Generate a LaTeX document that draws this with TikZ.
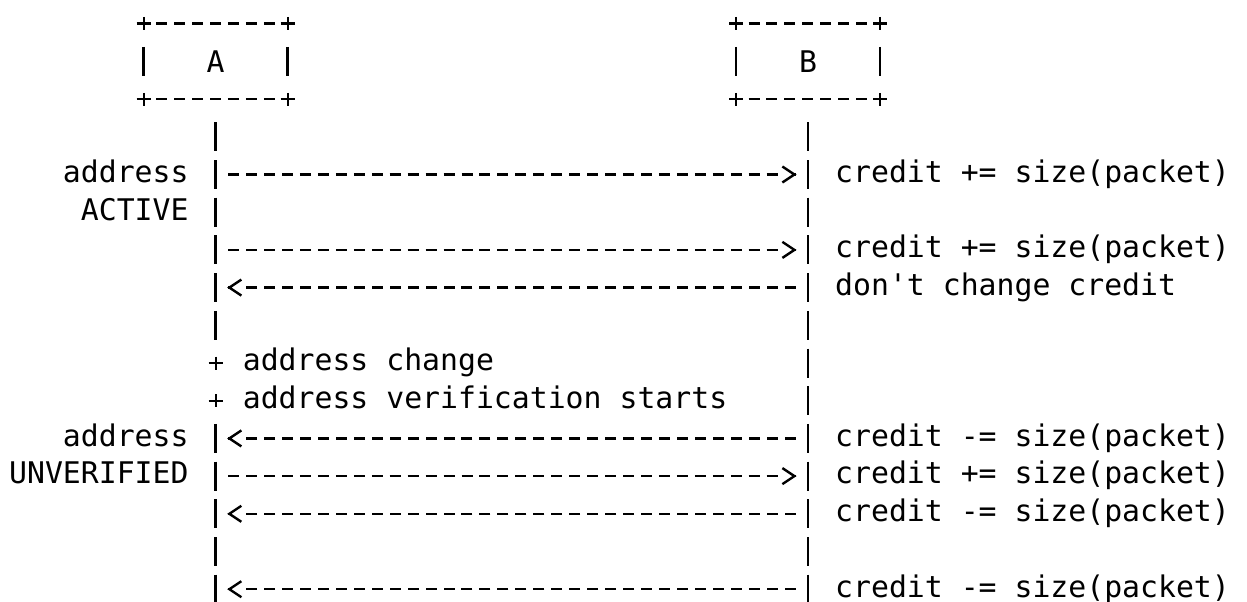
\documentclass[tikz,border=0pt]{standalone}
\usepackage{fontspec}
\setmonofont{DejaVu Sans Mono}
\usetikzlibrary{arrows.meta}

\newcommand\colw{17.95pt}
\newcommand\rowh{37.7pt}
\newcommand\seqfont{\fontsize{29.8pt}{36pt}\selectfont\ttfamily}
\tikzset{
  seqtext/.style={inner sep=0pt, font=\seqfont},
  actor/.style={seqtext, minimum width=143.6pt, minimum height=75.4pt},
  statelabel/.style={seqtext, anchor=base east},
  effect/.style={seqtext, anchor=base west},
  bar/.style={line width=2.6pt, dash pattern=on 29pt off 8.7pt},
  hyph/.style={line width=2.4pt, dash pattern=on 11pt off 6.95pt},
  msg/.style={hyph, shorten <=12.46pt, shorten >=30.4pt},
  msgtip/.style={line width=2.4pt, -{Straight Barb[length=12pt, width=16pt]}},
  plus/.style={line width=2.4pt},
}
\newcommand\lifepoints[1]{
  \coordinate (a#1) at (11, #1) ;
  \coordinate (b#1) at (44, #1) ;
}
\newcommand\plusmark[1]{
  \draw[plus] (#1) ++ (-7pt, 0) -- ++ (14pt, 0) (#1) ++ (0, 6.5pt) -- ++ (0, -13pt) ;
}
\newcommand\asciibox[1]{
  \draw[hyph] ([xshift=12.46pt]#1.north west) -- ([xshift=-12.46pt]#1.north east) ;
  \draw[hyph] ([xshift=12.46pt]#1.south west) -- ([xshift=-12.46pt]#1.south east) ;
  \draw[bar] (#1.west) ++ (0, 14.5pt) -- ++ (0, -29pt) ;
  \draw[bar] (#1.east) ++ (0, 14.5pt) -- ++ (0, -29pt) ;
  \plusmark{#1.north west} \plusmark{#1.north east}
  \plusmark{#1.south west} \plusmark{#1.south east}
}
\newcommand\msgtoB[2]{
  \draw[msg] (a#1) -- (b#1) ;
  \draw[msgtip] ([xshift=-12.5pt]b#1) -- ([xshift=-11.5pt]b#1) ;
  \node[effect] (eff#1) at ([xshift=26.93pt, yshift=-7.8pt]b#1) {#2} ;
}
\newcommand\msgtoA[2]{
  \draw[msg] (b#1) -- (a#1) ;
  \draw[msgtip] ([xshift=12.5pt]a#1) -- ([xshift=11.5pt]a#1) ;
  \node[effect] (eff#1) at ([xshift=26.93pt, yshift=-7.8pt]b#1) {#2} ;
}

\begin{document}
\begin{tikzpicture}[x=\colw, y=-\rowh]
    \useasboundingbox (-18.25pt, 23.7pt) rectangle (1228.75pt, -578.3pt) ;
    \node[actor] (boxA) at (11, 1) {A} ;
    \node[actor] (boxB) at (44, 1) {B} ;
    \asciibox{boxA}
    \asciibox{boxB}
    \lifepoints{3} \lifepoints{4} \lifepoints{5} \lifepoints{6} \lifepoints{7}
    \lifepoints{8} \lifepoints{9} \lifepoints{10} \lifepoints{11} \lifepoints{12}
    \lifepoints{13} \lifepoints{14} \lifepoints{15}
    \draw[bar] ([yshift=14.5pt]a3) -- ([yshift=-14.5pt]a8) ;
    \draw[bar] ([yshift=14.5pt]a11) -- ([yshift=-14.5pt]a15) ;
    \draw[bar] ([yshift=14.5pt]b3) -- ([yshift=-14.5pt]b15) ;
    % path state seen from A
    \node[statelabel] (state4) at ([xshift=-26.93pt, yshift=-7.8pt]a4) {address} ;
    \node[statelabel] (state5) at ([xshift=-26.93pt, yshift=-7.8pt]a5) {ACTIVE} ;
    \node[statelabel] (state11) at ([xshift=-26.93pt, yshift=-7.8pt]a11) {address} ;
    \node[statelabel] (state12) at ([xshift=-26.93pt, yshift=-7.8pt]a12) {UNVERIFIED} ;
    \msgtoB{4}{credit += size(packet)}
    \msgtoB{6}{credit += size(packet)}
    \msgtoA{7}{don't change credit}
    \plusmark{a9}
    \node[effect] (change) at ([xshift=26.93pt, yshift=-7.8pt]a9) {address change} ;
    \plusmark{a10}
    \node[effect] (verify) at ([xshift=26.93pt, yshift=-7.8pt]a10) {address verification starts} ;
    \msgtoA{11}{credit -= size(packet)}
    \msgtoB{12}{credit += size(packet)}
    \msgtoA{13}{credit -= size(packet)}
    \msgtoA{15}{credit -= size(packet)}
\end{tikzpicture}
\end{document}
